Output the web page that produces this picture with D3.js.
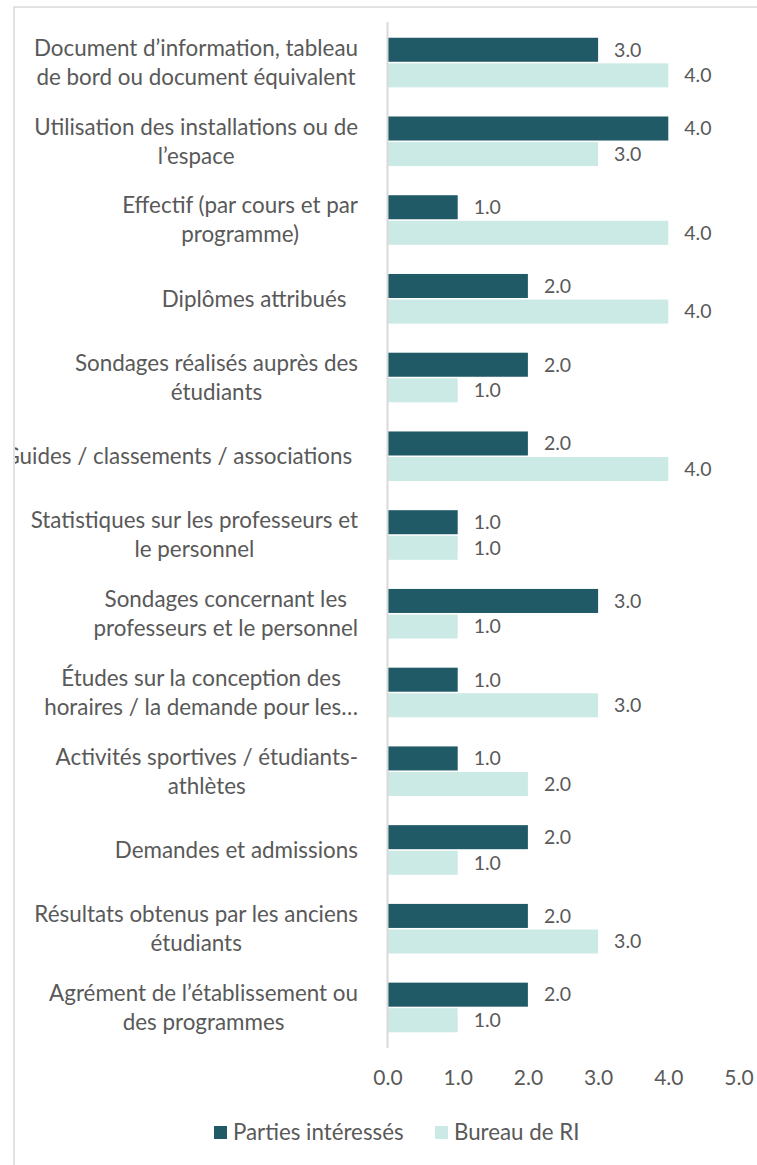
<!DOCTYPE html>
<html>
<head>
<meta charset="utf-8">
<script src="https://cdn.jsdelivr.net/npm/d3@7"></script>
<style>
body{margin:0;background:#fff;}
svg{display:block;}
text{font-family:"Lato","Open Sans",sans-serif;fill:#595959;}
</style>
</head>
<body>
<svg id="chart" width="757" height="1165"></svg>
<script>
const categories = [
  ["Document d’information, tableau", "de bord ou document équivalent"],
  ["Utilisation des installations ou de", "l’espace"],
  ["Effectif (par cours et par", "programme)"],
  ["Diplômes attribués  "],
  ["Sondages réalisés auprès des", "étudiants"],
  ["Guides / classements / associations "],
  ["Statistiques sur les professeurs et", "le personnel"],
  ["Sondages concernant les", "professeurs et le personnel"],
  ["Études sur la conception des", "horaires / la demande pour les…"],
  ["Activités sportives / étudiants-", "athlètes"],
  ["Demandes et admissions"],
  ["Résultats obtenus par les anciens", "étudiants"],
  ["Agrément de l’établissement ou", "des programmes"]
];
const seriesNames = ["Parties intéressés", "Bureau de RI"];
const partiesValues = [3, 4, 1, 2, 2, 2, 1, 3, 1, 1, 2, 2, 2];
const bureauValues  = [4, 3, 4, 4, 1, 4, 1, 1, 3, 2, 1, 3, 1];
const xTicks = [0, 1, 2, 3, 4, 5];
const colors = ["#215A67", "#CCEAE5"];

const svg = d3.select("#chart");
const W = 757, H = 1165;
const FRAME_X = 14, FRAME_Y = 7;

svg.append("defs").append("clipPath").attr("id", "frameClip")
  .append("rect").attr("x", FRAME_X + 1).attr("y", FRAME_Y).attr("width", W).attr("height", H);

// chart frame
svg.append("rect").attr("x", FRAME_X).attr("y", FRAME_Y).attr("width", W + 10).attr("height", H + 10)
  .attr("fill", "#fff").attr("stroke", "#d9d9d9").attr("stroke-width", 1.5);

const x = d3.scaleLinear().domain([0, 5]).range([387.5, 738.5]);
const idx = d3.range(categories.length);
const y = d3.scaleBand().domain(idx).range([22, 1048]).paddingInner(0.37).paddingOuter(0.2);
const ySub = d3.scaleBand().domain([0, 1]).range([0, y.bandwidth()]).paddingInner(0.06);

const rows = idx.map(i => ({i, vals: [partiesValues[i], bureauValues[i]]}));

const g = svg.append("g").attr("clip-path", "url(#frameClip)");
const grp = g.selectAll("g.grp").data(rows).join("g").attr("class", "grp")
  .attr("transform", d => `translate(0,${y(d.i)})`);

grp.selectAll("rect").data(d => d.vals.map((v, k) => ({v, k}))).join("rect")
  .attr("x", x(0)).attr("y", d => ySub(d.k))
  .attr("width", d => x(d.v) - x(0)).attr("height", ySub.bandwidth())
  .attr("fill", d => colors[d.k]);

grp.selectAll("text.val").data(d => d.vals.map((v, k) => ({v, k}))).join("text")
  .attr("class", "val")
  .attr("x", d => x(d.v) + 16).attr("y", d => ySub(d.k) + ySub.bandwidth() / 2)
  .attr("dy", "0.35em").attr("font-size", 19.5)
  .text(d => d3.format(".1f")(d.v));

// category labels: lines centred, block right-aligned at labelRight
const lineH = 29, labelRight = 358;
grp.append("text").attr("class", "cat")
  .attr("text-anchor", "middle").attr("font-size", 22.4)
  .style("white-space", "pre")
  .each(function(d) {
    const lines = categories[d.i];
    const t = d3.select(this);
    const c = y.bandwidth() / 2;
    const spans = lines.map((ln, j) => t.append("tspan")
        .attr("y", c + (j - (lines.length - 1) / 2) * lineH)
        .attr("dy", "0.35em").text(ln));
    const maxW = d3.max(spans, s => s.node().getComputedTextLength());
    spans.forEach(s => s.attr("x", labelRight - maxW / 2));
  });

// axis line
svg.append("line").attr("x1", x(0)).attr("x2", x(0)).attr("y1", 22).attr("y2", 1048)
  .attr("stroke", "#d9d9d9").attr("stroke-width", 2);

// x axis tick labels
const xAxis = d3.axisBottom(x).tickValues(xTicks).tickFormat(d3.format(".1f")).tickSize(0).tickPadding(0);
const ax = svg.append("g").attr("transform", "translate(0,1070)").call(xAxis);
ax.select(".domain").remove();
ax.selectAll("text").attr("font-size", 21).attr("fill", "#595959")
  .attr("font-family", '"Lato","Open Sans",sans-serif');

// legend
const legX = [214, 435];
const leg = svg.selectAll("g.leg").data(seriesNames).join("g").attr("class", "leg")
  .attr("transform", (d, k) => `translate(${legX[k]},1126)`);
leg.append("rect").attr("width", 13).attr("height", 13).attr("fill", (d, k) => colors[k]);
leg.append("text").attr("x", 19).attr("y", 6.5).attr("dy", "0.35em").attr("font-size", 22.3).text(d => d);
</script>
</body>
</html>
